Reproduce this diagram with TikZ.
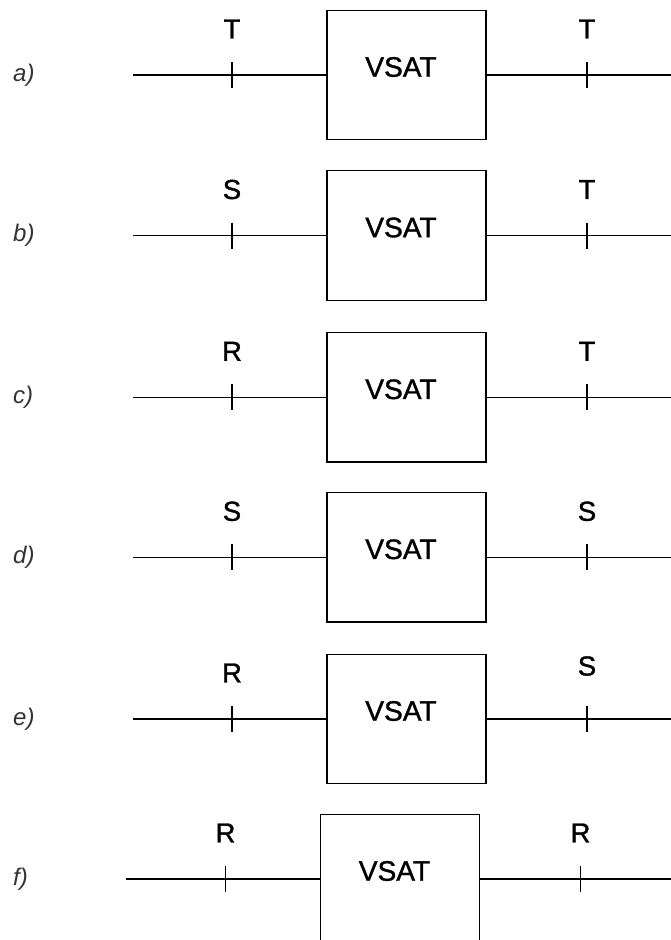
\documentclass[tikz,border=0pt]{standalone}
\usepackage{fontspec}
\setmainfont{Liberation Sans}
\newfontfamily\heavyfont[FakeBold=1.2]{Liberation Sans}
\usetikzlibrary{calc}

\begin{document}
\begin{tikzpicture}[
    x=0.03cm, y=-0.03cm,
    wire/.style={line width=1.1pt},
    vsatbox/.style={draw, line width=1.1pt, inner sep=0pt, outer sep=0pt,
                    minimum width=4.77cm, minimum height=3.885cm},
    vsattext/.style={font=\heavyfont\fontsize{24}{28}\selectfont, inner sep=0pt},
    refpoint/.style={font=\heavyfont\fontsize{23.5}{28}\selectfont, inner sep=0pt},
    rowlabel/.style={font=\fontsize{20.5}{24}\selectfont\itshape, text=black!80,
                     anchor=west, inner sep=0pt}
]

% -------------------------------------------------
% Page frame (pixel grid of the reference, y downwards)
% -------------------------------------------------

\useasboundingbox (0,0) rectangle (671,940);
\clip (0,0) rectangle (671,940);

\def\tick{13}

% -------------------------------------------------
% One row per configuration:
%
%  row / line y / shift / left point / right point / right label offset
% -------------------------------------------------

\foreach \row/\yy/\dx/\lft/\rgt/\ry in {
    a/75/0/T/T/-46,
    b/235.5/0/S/T/-46,
    c/397.3/0/R/T/-46,
    d/557.3/0/S/S/-46,
    e/719/0/R/S/-53,
    f/879/-6.5/R/R/-46}{

    % Line ends and reference points
    \coordinate (\row-start) at ({132.7+(\dx)},\yy);
    \coordinate (\row-end)   at (671,\yy);
    \coordinate (\row-pl)    at ({232+(\dx)},\yy);
    \coordinate (\row-pr)    at ({587+(\dx)},\yy);

    % VSAT box
    \node[vsatbox] (\row-box) at ({406.5+(\dx)},\yy) {};
    \node[vsattext] (\row-txt) at ($(\row-box.center)+(-5.5,-8)$) {VSAT};

    % Lines
    \draw[wire] (\row-start) -- (\row-box.west);
    \draw[wire] (\row-box.east) -- (\row-end);

    % Reference point ticks
    \draw[wire]
      ($(\row-pl)+(0,-\tick)$)
      --
      ($(\row-pl)+(0,\tick)$);
    \draw[wire]
      ($(\row-pr)+(0,-\tick)$)
      --
      ($(\row-pr)+(0,\tick)$);

    % Reference point labels
    \node[refpoint] (\row-lbl-l) at ($(\row-pl)+(0,-46)$) {\lft};
    \node[refpoint] (\row-lbl-r) at ($(\row-pr)+(0,\ry)$) {\rgt};

    % Row label
    \node[rowlabel] (\row-name) at (13,\yy) {\row)};
}

\end{tikzpicture}
\end{document}
